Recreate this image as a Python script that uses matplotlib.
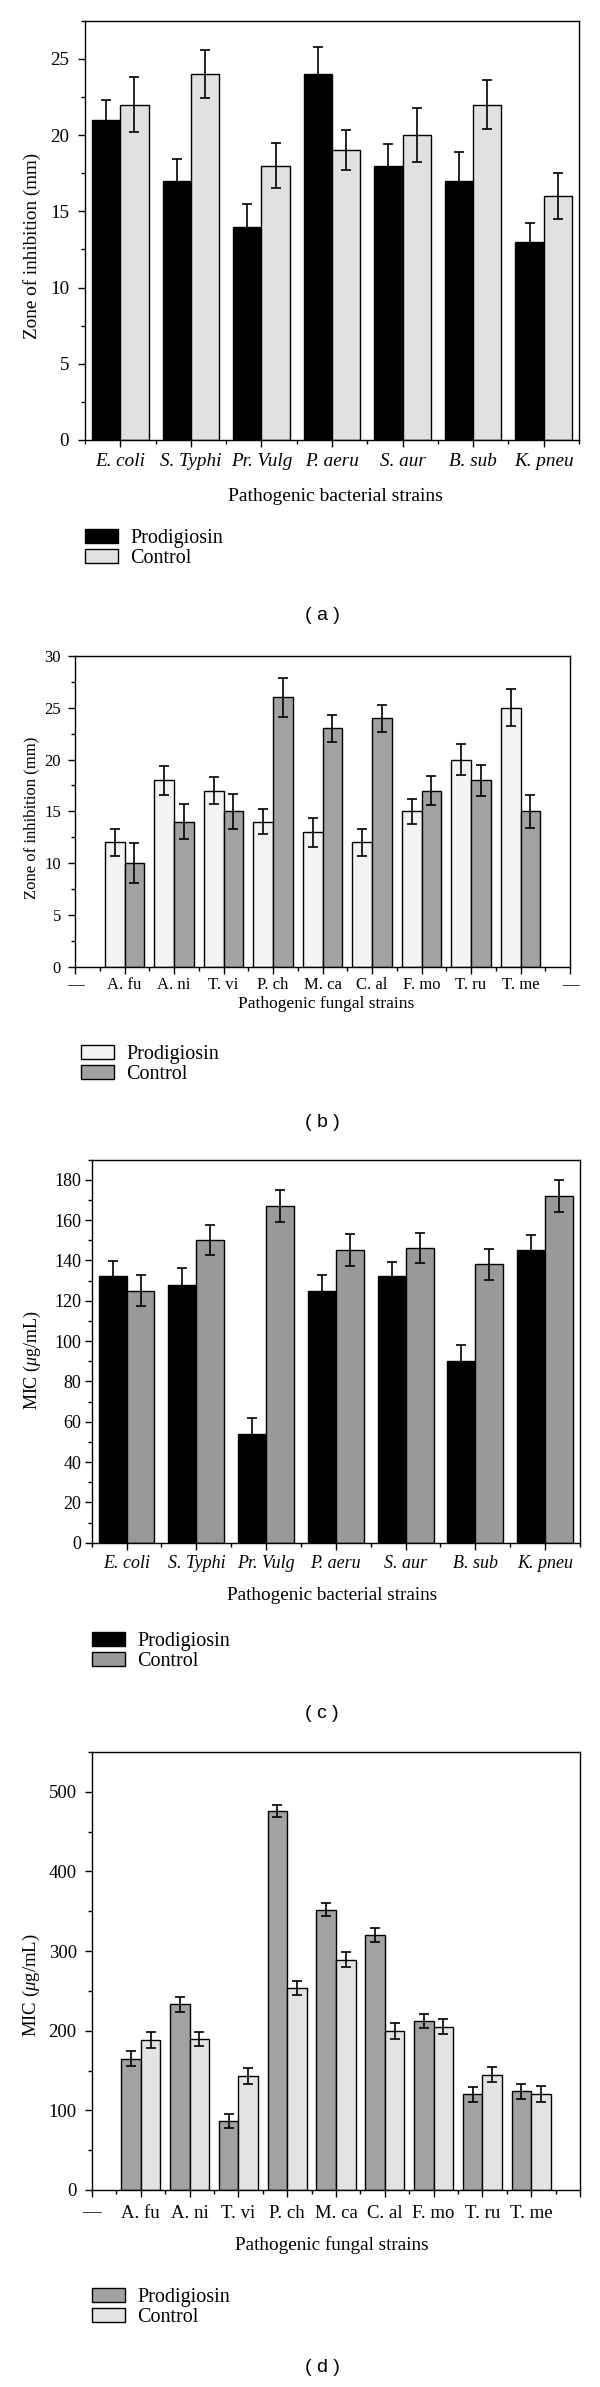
import numpy as np
import matplotlib
matplotlib.use("Agg")
import matplotlib.pyplot as plt
from matplotlib.ticker import MultipleLocator, FixedLocator

plt.rcParams['font.family'] = ['Liberation Serif', 'DejaVu Serif']
plt.rcParams['mathtext.fontset'] = 'custom'
plt.rcParams['mathtext.rm'] = 'Liberation Serif'
plt.rcParams['mathtext.it'] = 'Liberation Serif:italic'

# ---------------- data ----------------
bact = ["E. coli", "S. Typhi", "Pr. Vulg", "P. aeru", "S. aur", "B. sub", "K. pneu"]
fung = ["A. fu", "A. ni", "T. vi", "P. ch", "M. ca", "C. al", "F. mo", "T. ru", "T. me"]

a_prod = [21, 17, 14, 24, 18, 17, 13]
a_prod_err = [1.3, 1.4, 1.5, 1.8, 1.4, 1.9, 1.2]
a_ctrl = [22, 24, 18, 19, 20, 22, 16]
a_ctrl_err = [1.8, 1.6, 1.5, 1.3, 1.8, 1.6, 1.5]

b_prod = [12, 18, 17, 14, 13, 12, 15, 20, 25]
b_prod_err = [1.3, 1.4, 1.3, 1.2, 1.4, 1.3, 1.2, 1.5, 1.8]
b_ctrl = [10, 14, 15, 26, 23, 24, 17, 18, 15]
b_ctrl_err = [1.9, 1.7, 1.7, 1.9, 1.3, 1.3, 1.4, 1.5, 1.6]

c_prod = [132, 128, 54, 125, 132, 90, 145]
c_prod_err = [7.5, 8, 8, 7.5, 7, 8, 7.5]
c_ctrl = [125, 150, 167, 145, 146, 138, 172]
c_ctrl_err = [7.5, 7.5, 8, 8, 7.5, 7.5, 8]

d_prod = [165, 233, 87, 476, 352, 320, 212, 120, 124]
d_prod_err = [9, 9, 9, 8, 8, 9, 8.5, 9, 9.5]
d_ctrl = [188, 190, 143, 254, 289, 200, 205, 145, 120]
d_ctrl_err = [10, 9, 10, 9, 9.5, 10, 9.6, 9.7, 10]

series_names = ["Prodigiosin", "Control"]

# ---------------- layout ----------------
W, H = 600, 2387
fig = plt.figure(figsize=(W / 100, H / 100), dpi=100)


def px_axes(left, right, top, bottom):
    return fig.add_axes([left / W, 1 - bottom / H, (right - left) / W, (bottom - top) / H])


def ftext(x, y, s, **kw):
    return fig.text(x / W, 1 - y / H, s, **kw)


def panel(box, cats, prod, perr, ctrl, cerr, colors, ylim, ymaj, ymin_, xmode,
          ylabel, ylabel_xy, xlabel, xlabel_xy, fs_tick, ypad, xpad, italic,
          leg_xy, panel_label, panel_y, xlab_fs):
    ax = px_axes(*box)
    n = len(cats)
    x = np.arange(1, n + 1)
    w = 0.4
    b1 = ax.bar(x - w / 2, prod, width=w, color=colors[0], edgecolor='black', linewidth=1.0, zorder=2)
    b2 = ax.bar(x + w / 2, ctrl, width=w, color=colors[1], edgecolor='black', linewidth=1.0, zorder=2)
    ax.errorbar(x - w / 2, prod, yerr=perr, fmt='none', ecolor='black', elinewidth=1.2,
                capsize=3.3, capthick=1.2, zorder=3)
    ax.errorbar(x + w / 2, ctrl, yerr=cerr, fmt='none', ecolor='black', elinewidth=1.2,
                capsize=3.3, capthick=1.2, zorder=3)
    ax.set_ylim(*ylim)
    ax.yaxis.set_major_locator(MultipleLocator(ymaj))
    ax.yaxis.set_minor_locator(MultipleLocator(ymin_))
    if xmode == 'half':
        ax.set_xlim(0.5, n + 0.5)
        ax.set_xticks(x)
        ax.set_xticklabels(cats)
        ax.xaxis.set_minor_locator(FixedLocator(np.arange(0.5, n + 1, 1.0)))
    else:
        ax.set_xlim(0, n + 1)
        ax.set_xticks(np.arange(0, n + 2))
        right_lab = '—' if xmode == 'dash2' else ''
        ax.set_xticklabels(['—'] + cats + [right_lab])
        ax.xaxis.set_minor_locator(FixedLocator(np.arange(0.5, n + 1, 1.0)))
    for lab in ax.get_xticklabels():
        lab.set_fontsize(fs_tick)
        if italic:
            lab.set_fontstyle('italic')
    for lab in ax.get_yticklabels():
        lab.set_fontsize(fs_tick)
    ax.tick_params(axis='both', which='major', direction='out', length=5, width=1.0,
                   top=False, right=False)
    ax.tick_params(axis='both', which='minor', direction='out', length=3, width=1.0,
                   top=False, right=False)
    ax.tick_params(axis='y', which='major', pad=ypad)
    ax.tick_params(axis='x', which='major', pad=xpad)
    for sp in ax.spines.values():
        sp.set_linewidth(1.0)
    ftext(ylabel_xy[0], ylabel_xy[1], ylabel, rotation=90, ha='center', va='center',
          fontsize=fs_tick)
    ftext(xlabel_xy[0], xlabel_xy[1], xlabel, ha='center', va='baseline', fontsize=xlab_fs)
    fig.legend([b1, b2], series_names, loc='upper left',
               bbox_to_anchor=(leg_xy[0] / W, 1 - leg_xy[1] / H),
               frameon=False, fontsize=14.5, handlelength=1.65, handleheight=0.68,
               handletextpad=0.6, labelspacing=0.05, borderpad=0, borderaxespad=0)
    ftext(322, panel_y, panel_label, ha='center', va='center', fontsize=14,
          family='Liberation Sans')
    return ax


panel((85, 579, 20.7, 440), bact, a_prod, a_prod_err, a_ctrl, a_ctrl_err,
      ('#000000', '#e1e1e1'), (0, 27.5), 5, 2.5, 'half',
      'Zone of inhibition (mm)', (32, 246), 'Pathogenic bacterial strains', (335, 501),
      13.8, 6.5, 4.0, True, (85, 529), '( a )', 615, 14)

panel((75, 570, 656, 966.7), fung, b_prod, b_prod_err, b_ctrl, b_ctrl_err,
      ('#f3f3f3', '#a2a2a2'), (0, 30), 5, 2.5, 'dash2',
      'Zone of inhibition (mm)', (31, 818), 'Pathogenic fungal strains', (326, 1007.7),
      12, 5, 2.4, False, (81, 1045), '( b )', 1123, 12.5)

panel((91.7, 580, 1159.5, 1542.7), bact, c_prod, c_prod_err, c_ctrl, c_ctrl_err,
      ('#000000', '#999999'), (0, 190), 20, 10, 'half',
      'MIC ($\\mu$g/mL)', (32, 1360), 'Pathogenic bacterial strains', (332, 1600),
      13, 2.5, 3.6, True, (92, 1632), '( c )', 1714, 13.8)

panel((92, 580, 1752, 2190), fung, d_prod, d_prod_err, d_ctrl, d_ctrl_err,
      ('#a2a2a2', '#e3e3e3'), (0, 550), 100, 50, 'dash1',
      'MIC ($\\mu$g/mL)', (31.5, 1985), 'Pathogenic fungal strains', (332, 2250),
      13.5, 6.0, 5.5, False, (92, 2288), '( d )', 2367, 13.8)

fig.savefig('out.png', dpi=100)
